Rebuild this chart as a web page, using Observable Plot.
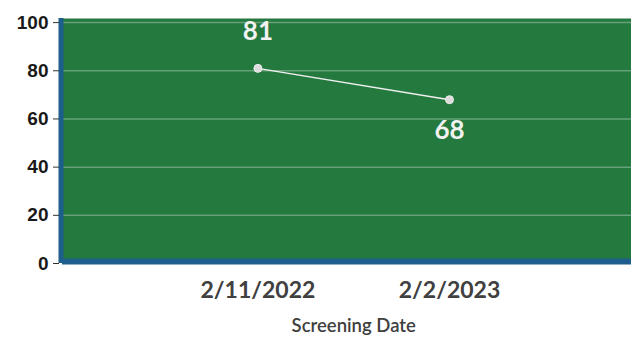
<!DOCTYPE html>
<html>
<head>
<meta charset="utf-8">
<script src="https://cdn.jsdelivr.net/npm/d3@7"></script>
<script src="https://cdn.jsdelivr.net/npm/@observablehq/plot@0.6"></script>
<style>
  html, body { margin: 0; padding: 0; background: #ffffff; }
  #chart svg { display: block; }
</style>
</head>
<body>
<div id="chart"></div>
<script>
// Screening results by date
const dates = ["2/11/2022", "2/2/2023"];
const scores = [81, 68];
const yTicks = [0, 20, 40, 60, 80, 100];

// category slots: the two screenings sit at positions 1 and 2
const rows = dates.map((d, i) => ({pos: i + 1, date: d, score: scores[i]}));

const green = "#24793f";
const blue = "#1d5e8c";

const labelStyle = {
  x: "pos", y: "score", text: d => String(d.score),
  fontSize: 26, fontWeight: "bold", fill: "#f2f2f2",
  fontFamily: "Lato, sans-serif"
};

const chart = Plot.plot({
  width: 631,
  height: 341,
  marginLeft: 62,
  marginRight: 0,
  marginTop: 18,
  marginBottom: 78,
  style: {background: "#ffffff", overflow: "visible"},
  x: {domain: [-0.02, 2.95], axis: null},
  y: {domain: [0, 101.7], axis: null},
  marks: [
    Plot.frame({fill: green, stroke: null}),
    Plot.ruleY(yTicks.filter(t => t > 0), {stroke: "#ffffff", strokeOpacity: 0.3, strokeWidth: 1.5}),
    Plot.ruleX([-0.02], {stroke: blue, strokeWidth: 5, dx: -1.5}),
    Plot.ruleY([0], {stroke: blue, strokeWidth: 6, dy: -2}),
    // y axis: tick marks and labels
    Plot.axisY(yTicks, {
      tickSize: 6, tickPadding: 5, tickFormat: d => d,
      fontSize: 19, fontWeight: "bold", fill: "#1a1a1a", stroke: "#333",
      fontFamily: "Liberation Sans, Arial, sans-serif", dx: -3, label: null
    }),
    // x axis: category labels
    Plot.axisX(rows.map(r => r.pos), {
      tickSize: 0, tickPadding: 18, tickFormat: p => dates[p - 1],
      fontSize: 23, fontWeight: "bold", fill: "#404040",
      fontFamily: "Lato, sans-serif", label: null
    }),
    Plot.line(rows, {x: "pos", y: "score", stroke: "#f0f0f0", strokeWidth: 1.5}),
    Plot.dot(rows, {x: "pos", y: "score", r: 4, fill: "#dcdcdc", stroke: "#eeeeee", strokeWidth: 1}),
    // value labels: first above its point, second below
    Plot.text(rows.filter(r => r.pos === 1), {...labelStyle, dy: -37}),
    Plot.text(rows.filter(r => r.pos === 2), {...labelStyle, dy: 31}),
    Plot.text(["Screening Date"], {
      frameAnchor: "bottom", dy: 68, x: 1.5,
      text: d => d, fontSize: 18.5, fontWeight: 600, fill: "#404040",
      fontFamily: "Lato, sans-serif"
    })
  ]
});

document.getElementById("chart").append(chart);
</script>
</body>
</html>
